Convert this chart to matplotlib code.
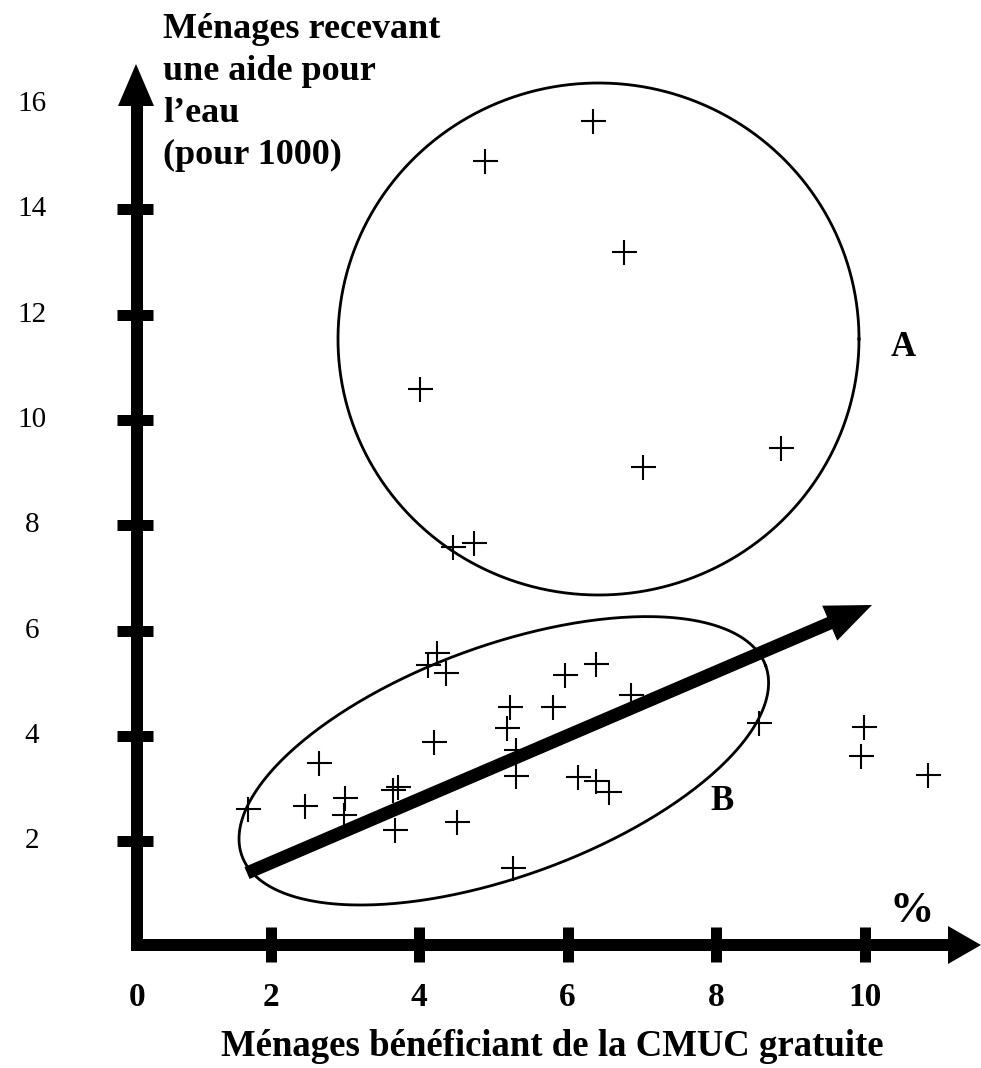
import numpy as np
import matplotlib
matplotlib.use("Agg")
import matplotlib.pyplot as plt
from matplotlib.patches import Polygon

# ---- data ----
cmuc_gratuite = [6.34, 4.89, 6.76, 4.01, 7.02, 8.88, 4.46, 4.74,
                 4.24, 4.12, 4.36, 4.20, 2.65, 1.70, 2.46, 3.00, 2.99,
                 3.72, 3.65, 3.68, 4.51, 6.38, 5.96, 6.86, 5.23, 5.81,
                 5.19, 5.31, 5.31, 6.14, 6.38, 6.56, 5.27, 8.58, 9.99,
                 9.95, 10.86]
aide_eau = [15.68, 14.92, 13.19, 10.59, 9.11, 9.47, 7.58, 7.66,
            5.57, 5.35, 5.19, 3.89, 3.49, 2.61, 2.67, 2.82, 2.50,
            3.04, 2.98, 2.22, 2.37, 5.36, 5.16, 4.78, 4.56, 4.56,
            4.16, 3.74, 3.25, 3.23, 3.15, 2.94, 1.49, 4.25, 4.17,
            3.62, 3.26]
x_ticks = [2, 4, 6, 8, 10]
y_ticks = [2, 4, 6, 8, 10, 12, 14]
y_tick_labels = ["2", "4", "6", "8", "10", "12", "14", "16"]
x_tick_labels = ["0", "2", "4", "6", "8", "10"]
x_title = "Ménages bénéficiant de la CMUC gratuite"
y_title = "Ménages recevant\nune aide pour\nl\u2019eau\n(pour 1000)"

# ---- figure / scale ----
W, H = 981, 1068
fig = plt.figure(figsize=(W / 100, H / 100), dpi=100)
ax = fig.add_axes([0, 0, 1, 1])
SX, X0 = 74.25, 122.1   # pixels per x unit, pixel column of x = 0
SY, Y0 = 52.68, 946.8   # pixels per y unit, pixel row of y = 0
ax.set_xlim(-X0 / SX, (W - X0) / SX)
ax.set_ylim((Y0 - H) / SY, Y0 / SY)
ax.axis("off")

def dx(p):
    return (np.asarray(p, float) - X0) / SX

def dy(p):
    return (Y0 - np.asarray(p, float)) / SY

PT = 0.72  # points per pixel
FONT = "Liberation Serif"
black = "black"

# ---- axes drawn as thick arrows ----
x_axis = dx(137)
y_axis = dy(945)
ax.plot([x_axis, x_axis], [dy(951), dy(100)], color=black, lw=12 * PT,
        solid_capstyle="butt")
ax.add_patch(Polygon([[dx(118), dy(106)], [dx(154), dy(106)], [dx(136), dy(64)]],
                     closed=True, color=black, lw=0))
ax.plot([dx(131), dx(955)], [y_axis, y_axis], color=black, lw=12 * PT,
        solid_capstyle="butt")
ax.add_patch(Polygon([[dx(948), dy(926)], [dx(948), dy(964)], [dx(981), dy(945)]],
                     closed=True, color=black, lw=0))

# ticks
for yv in y_ticks:
    ax.plot([dx(117), dx(153)], [yv, yv], color=black, lw=11 * PT,
            solid_capstyle="butt")
for xv in x_ticks:
    ax.plot([xv, xv], [dy(927), dy(962)], color=black, lw=11 * PT,
            solid_capstyle="butt")

# tick labels
all_y = y_ticks + [16]
for yv, lab in zip(all_y, y_tick_labels):
    ax.text(dx(32), yv, lab, fontsize=21, family=FONT, ha="center", va="center")
x_lab_pos = [x_axis] + x_ticks
for xv, lab in zip(x_lab_pos, x_tick_labels):
    ax.text(xv, dy(998), lab, fontsize=24, family=FONT, weight="bold",
            ha="center", va="center")

# titles
ax.text(dx(552), dy(1047), x_title, fontsize=26.5, family=FONT, weight="bold",
        ha="center", va="center")
ax.text(dx(163), dy(13), y_title, fontsize=26, family=FONT, weight="bold",
        ha="left", va="top", linespacing=1.36)
ax.text(dx(912), dy(911), "%", fontsize=32, family=FONT, weight="bold",
        ha="center", va="center")
ax.text(dx(903), dy(347), "A", fontsize=25, family=FONT, weight="bold",
        ha="center", va="center")
ax.text(dx(722), dy(801), "B", fontsize=25, family=FONT, weight="bold",
        ha="center", va="center")

# ---- group outlines ----
t = np.linspace(0, 2 * np.pi, 400)
# circle A
cxa, cya, rxa, rya = 598.5, 339.0, 260.5, 256.0
ax.plot(dx(cxa + rxa * np.cos(t)), dy(cya + rya * np.sin(t)), color=black,
        lw=2.8 * PT)
# ellipse B (rotated)
cxb, cyb, ab, bb, th = 503.8, 760.8, 278.6, 115.3, np.deg2rad(19.97)
ex = cxb + ab * np.cos(t) * np.cos(th) - bb * np.sin(t) * np.sin(th)
ey = cyb - (ab * np.cos(t) * np.sin(th) + bb * np.sin(t) * np.cos(th))
ax.plot(dx(ex), dy(ey), color=black, lw=2.8 * PT)

# ---- trend arrow ----
sx, sy = 247.0, 873.0
tx, ty = 872.0, 605.0
L = np.hypot(tx - sx, ty - sy)
ux, uy = (tx - sx) / L, (ty - sy) / L
nx, ny = -uy, ux
hl, hw = 46.0, 19.0
bx, by = tx - hl * ux, ty - hl * uy
ax.plot(dx([sx, bx + 2 * ux]), dy([sy, by + 2 * uy]), color=black, lw=13 * PT,
        solid_capstyle="butt")
ax.add_patch(Polygon([[dx(bx + hw * nx), dy(by + hw * ny)],
                      [dx(bx - hw * nx), dy(by - hw * ny)],
                      [dx(tx), dy(ty)]], closed=True, color=black, lw=0))

# ---- data points ----
ax.plot(cmuc_gratuite, aide_eau, linestyle="none", marker="+", color=black,
        markersize=18, markeredgewidth=1.5)

fig.savefig("out.png", dpi=100, facecolor="white")
